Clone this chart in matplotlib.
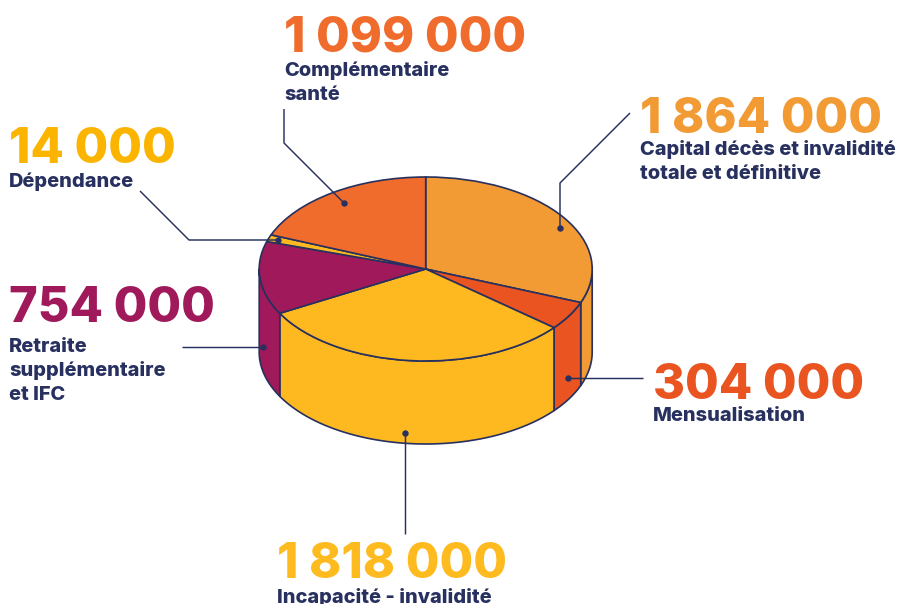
#!/usr/bin/env python3
"""
Purpose: Redraw the split of amounts per guarantee as a tilted 3D pie
"""

import numpy as np
from matplotlib import pyplot as plt

plt.rcParams['font.family'] = ['Inter', 'DejaVu Sans']

NAVY = '#27305F'

# amounts as printed next to each slice, clockwise from the top
amount_labels = ['1 864 000', '304 000', '1 818 000', '754 000', '14 000',
        '1 099 000']
# slice sizes in degrees (drawn slightly off the amounts)
slice_degrees = [111.4, 18.2, 111.6, 46.2, 4.4, 68.2]
slice_colors = ['#F29A33', '#E95420', '#FDB91F', '#A0195A', '#FDB91F', '#F06C2C']
amount_colors = ['#F29A33', '#E95420', '#FEBB20', '#A0195A', '#FBB400', '#F06C2C']
captions = [['Capital décès et invalidité', 'totale et définitive'],
        ['Mensualisation'],
        ['Incapacité - invalidité'],
        ['Retraite', 'supplémentaire', 'et IFC'],
        ['Dépendance'],
        ['Complémentaire', 'santé']]

# pixel layout of the picture
WIDTH, HEIGHT = 900, 604
CX, CY, RX, RY, DEPTH = 425.7, 269, 166.5, 92, 83
# left edge, amount baseline, baselines of caption lines
text_pos = [(640, 133, [155, 179]), (653, 399, [421]), (277, 578, [603]),
        (9, 322, [352, 376, 400]), (9, 163, [187]), (284, 52, [76, 100])]
# leader lines, the last point carries the dot
leaders = [[(630, 113), (560, 183), (560, 228)],
        [(643, 378), (568, 378)],
        [(405, 534), (405, 433)],
        [(182, 347), (263, 347)],
        [(140, 191), (189, 240), (278, 240)],
        [(284, 109), (284, 143), (344, 203)]]


def draw_sides(a_ax, a_degrees, a_colors, a_depth):
    """ Draw the visible rim of each slice below the pie top
    Parameters:
        a_ax (Axes): axes in unit circle coordinates
        a_degrees (list of floats): slice sizes, clockwise from the top
        a_colors (list of strings): slice colours
        a_depth (float): rim height in axes units
    Returns:
        None
    """
    ends = np.cumsum(a_degrees)
    starts = ends - np.array(a_degrees)
    for start, end, color in zip(starts, ends, a_colors):
        # only the front half of the rim can be seen
        lo, hi = max(start, 90), min(end, 270)
        if lo >= hi:
            continue
        # endif #
        theta = np.radians(90 - np.linspace(lo, hi, 80))
        x = np.cos(theta)
        y = np.sin(theta)
        a_ax.fill(np.r_[x, x[::-1]], np.r_[y, y[::-1] - a_depth], color=color,
                ec=NAVY, lw=1.2, zorder=1, joinstyle='round')
    # endfor #
# enddef draw_sides() #


def main():
    fig = plt.figure(figsize=(WIDTH / 100, HEIGHT / 100), dpi=100)
    # pie axes: unit circle squeezed into the ellipse of the pie top
    ax = fig.add_axes([0, 0, 1, 1])
    draw_sides(ax, slice_degrees, slice_colors, DEPTH / RY)
    ax.pie(slice_degrees, colors=slice_colors, startangle=90, counterclock=False,
            radius=1, wedgeprops={'edgecolor': NAVY, 'linewidth': 1.2, 'zorder': 2})
    ax.set_aspect('auto')
    ax.set_xlim(-CX / RX, (WIDTH - CX) / RX)
    ax.set_ylim((CY - HEIGHT) / RY, CY / RY)

    # overlay axes in picture pixels for the labels and leaders
    over = fig.add_axes([0, 0, 1, 1])
    over.set_xlim(0, WIDTH)
    over.set_ylim(HEIGHT, 0)
    over.axis('off')
    for points in leaders:
        xs, ys = zip(*points)
        over.plot(xs, ys, color=NAVY, lw=1.05, solid_capstyle='butt')
        over.plot(xs[-1], ys[-1], 'o', color=NAVY, ms=4.6, mew=0)
    # endfor #
    for label, color, lines, pos in zip(amount_labels, amount_colors, captions,
            text_pos):
        left, base, line_bases = pos
        over.text(left, base, label, color=color, fontsize=35.0,
                fontweight=800, va='baseline', ha='left')
        for line, line_base in zip(lines, line_bases):
            over.text(left, line_base, line, color=NAVY, fontsize=14.4,
                    fontweight=800, va='baseline', ha='left')
        # endfor #
    # endfor #
    fig.savefig('out.png', dpi=100)
# enddef main() #


if __name__ == "__main__":
    main()
# endif #
